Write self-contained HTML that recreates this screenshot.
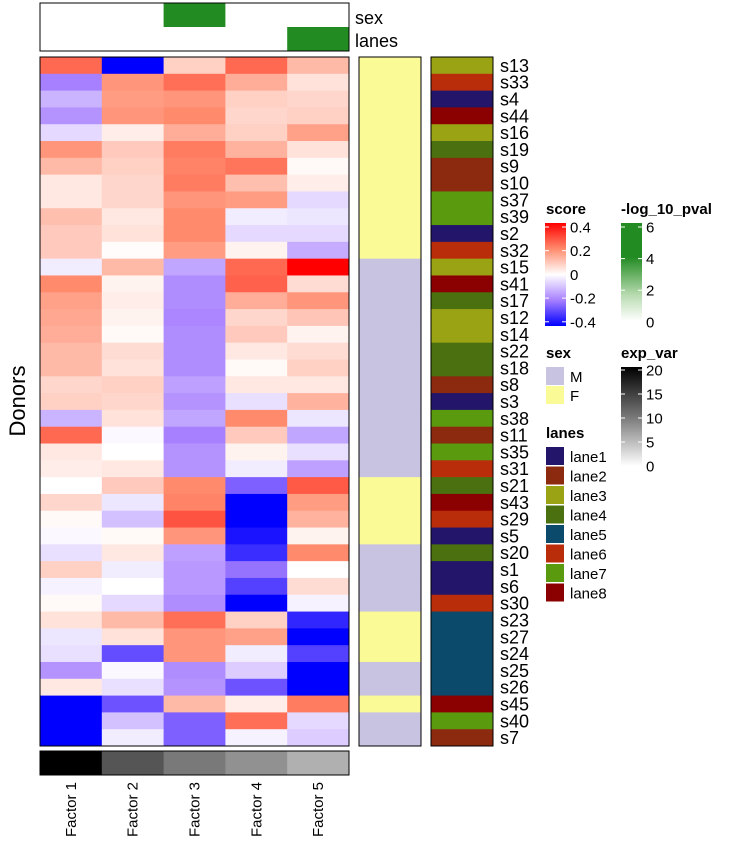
<!DOCTYPE html>
<html><head><meta charset="utf-8"><style>
body{margin:0;background:#fff;font-family:"Liberation Sans",sans-serif}
svg text{font-family:"Liberation Sans",sans-serif}
</style></head><body>
<svg id="c" width="733" height="846" xmlns="http://www.w3.org/2000/svg"></svg>
<script>
const donors=["s13","s33","s4","s44","s16","s19","s9","s10","s37","s39","s2","s32","s15","s41","s17","s12","s14","s22","s18","s8","s3","s38","s11","s35","s31","s21","s43","s29","s5","s20","s1","s6","s30","s23","s27","s24","s25","s26","s45","s40","s7"];
const factors=["Factor 1","Factor 2","Factor 3","Factor 4","Factor 5"];
const scores=[
[0.25,-0.45,0.08,0.25,0.12],[-0.2,0.18,0.24,0.14,0.05],[-0.12,0.17,0.18,0.08,0.07],[-0.17,0.18,0.2,0.07,0.08],
[-0.06,0.03,0.14,0.08,0.16],[0.18,0.09,0.22,0.13,0.05],[0.12,0.08,0.21,0.23,0.01],[0.04,0.07,0.22,0.11,0.03],
[0.04,0.07,0.18,0.17,-0.06],[0.11,0.04,0.2,-0.03,-0.04],[0.09,0.05,0.2,-0.06,-0.06],[0.09,0.005,0.17,0.02,-0.13],
[-0.03,0.12,-0.14,0.25,0.42],[0.2,0.02,-0.18,0.26,0.06],[0.16,0.03,-0.18,0.14,0.18],[0.15,0.02,-0.19,0.07,0.1],
[0.14,0.01,-0.18,0.09,0.02],[0.12,0.06,-0.18,0.04,0.06],[0.12,0.05,-0.18,0.01,0.08],[0.07,0.08,-0.15,0.04,0.04],
[0.08,0.07,-0.17,-0.05,0.13],[-0.12,0.05,-0.14,0.2,-0.04],[0.25,-0.01,-0.2,0.09,-0.14],[0.04,0.0,-0.17,0.02,-0.05],
[0.03,0.04,-0.17,-0.03,-0.15],[0.0,0.09,0.2,-0.25,0.27],[0.07,-0.04,0.21,-0.45,0.17],[0.01,-0.1,0.28,-0.45,0.13],
[-0.01,0.01,0.18,-0.37,0.02],[-0.05,0.04,-0.15,-0.33,0.2],[0.08,-0.03,-0.16,-0.22,0],[-0.02,0.0,-0.16,-0.3,0.06],
[0.01,-0.06,-0.18,-0.45,-0.02],[0.05,0.12,0.24,0.08,-0.34],[-0.04,0.05,0.18,0.16,-0.45],[-0.05,-0.28,0.18,-0.03,-0.3],
[-0.17,-0.01,-0.18,-0.08,-0.45],[0.04,-0.05,-0.17,-0.27,-0.45],[-0.45,-0.27,0.12,0.03,0.22],[-0.45,-0.1,-0.25,0.24,-0.06],
[-0.45,-0.03,-0.25,-0.02,-0.08]];
const sexes=["F","F","F","F","F","F","F","F","F","F","F","F","M","M","M","M","M","M","M","M","M","M","M","M","M","F","F","F","F","M","M","M","M","F","F","F","M","M","F","M","M"];
const lanes=[3,6,1,8,3,4,2,2,7,7,1,6,3,8,4,3,3,4,4,2,1,7,2,7,6,4,8,6,1,4,1,1,6,5,5,5,5,5,8,7,2];
const expVar=[20,13,10,8,5.5];
const sexTop=[0,0,1,0,0];
const lanesTop=[0,0,0,0,1];
const laneNames=["lane1","lane2","lane3","lane4","lane5","lane6","lane7","lane8"];
const laneCols=["#231569","#8B2A0E","#9AA314","#4A7010","#0B4A6A","#BA2D0B","#5A9A0F","#8B0000"];
const sexCols={M:"#C8C3E0",F:"#FAFA96"};

const svg=document.getElementById('c');const NS="http://www.w3.org/2000/svg";
function el(t,a,p){const e=document.createElementNS(NS,t);for(const k in a)e.setAttribute(k,a[k]);(p||svg).appendChild(e);return e;}
function lerp(a,b,t){return a.map((v,i)=>Math.round(v+(b[i]-v)*t));}
function scoreCol(v){const s=[[-0.4,[0,0,255]],[-0.2,[167,128,255]],[0,[255,255,255]],[0.2,[255,138,108]],[0.4,[255,0,0]]];
 if(v<=-0.4)return"rgb(0,0,255)";if(v>=0.4)return"rgb(255,0,0)";
 for(let i=0;i<4;i++){if(v<=s[i+1][0]){const c=lerp(s[i][1],s[i+1][1],(v-s[i][0])/0.2);return`rgb(${c})`;}}}
function grayCol(v){const g=Math.round(255*(1-v/20)*0.95+ (v<1?12:0));return`rgb(${g},${g},${g})`;}
const X0=40,X1=349,Y0=57,Y1=746;const cw=(X1-X0)/factors.length,rh=(Y1-Y0)/donors.length;
const xs=i=>X0+i*cw,ys=j=>Y0+j*rh;
// top annotations
el('rect',{x:40,y:3,width:309,height:48,fill:'#fff'});
sexTop.forEach((v,i)=>{if(v){const r=el('rect',{x:xs(i),y:3,width:cw,height:24,fill:'#228B22'});
}});
lanesTop.forEach((v,i)=>{if(v){const r=el('rect',{x:xs(i),y:27,width:cw,height:24,fill:'#228B22'});
}});
el('rect',{x:40,y:3,width:309,height:48,fill:'none',stroke:'#000','stroke-width':1});
let t=el('text',{x:355,y:24,'font-size':18});t.textContent='sex';
t=el('text',{x:355,y:47,'font-size':18});t.textContent='lanes';
// heatmap
scores.forEach((row,j)=>row.forEach((v,i)=>{const r=el('rect',{x:xs(i),y:ys(j),width:cw+0.5,height:rh+0.5,fill:scoreCol(v)});
}));
el('rect',{x:X0,y:Y0,width:X1-X0,height:Y1-Y0,fill:'none',stroke:'#000'});
// sex col
sexes.forEach((s,j)=>{const r=el('rect',{x:359,y:ys(j),width:62,height:rh+0.5,fill:sexCols[s]});
});
el('rect',{x:359,y:Y0,width:62,height:Y1-Y0,fill:'none',stroke:'#000'});
lanes.forEach((l,j)=>{const r=el('rect',{x:431,y:ys(j),width:62,height:rh+0.5,fill:laneCols[l-1]});
});
el('rect',{x:431,y:Y0,width:62,height:Y1-Y0,fill:'none',stroke:'#000'});
donors.forEach((d,j)=>{const tt=el('text',{x:500,y:ys(j)+rh/2+6.5,'font-size':18});tt.textContent=d;
});
// bottom exp_var
expVar.forEach((v,i)=>{const r=el('rect',{x:xs(i),y:751,width:cw+0.5,height:24,fill:grayCol(v)});
});
el('rect',{x:40,y:751,width:309,height:24,fill:'none',stroke:'#000'});
factors.forEach((f,i)=>{const cx=xs(i)+cw/2+5;const tt=el('text',{x:0,y:0,'font-size':15,'text-anchor':'end',transform:`translate(${cx},782) rotate(-90)`});tt.textContent=f;
});
t=el('text',{x:0,y:0,'font-size':22,'text-anchor':'middle',transform:'translate(25,401) rotate(-90)',});t.textContent='Donors';
// legends
const defs=el('defs',{});
function grad(id,stops){const g=el('linearGradient',{id,x1:0,y1:0,x2:0,y2:1},defs);stops.forEach(s=>el('stop',{offset:s[0],'stop-color':s[1]},g));}
grad('gs',[[0,'#f00'],[0.25,'rgb(255,138,108)'],[0.5,'#fff'],[0.75,'rgb(167,128,255)'],[1,'#00f']]);
grad('gp',[[0,'#228B22'],[0.33,'#228B22'],[0.7,'#b8dbb0'],[0.95,'#fff'],[1,'#fff']]);
grad('ge',[[0,'#000'],[0.5,'#777'],[1,'#fff']]);
function title(x,y,s,n){const e=el('text',{x,y,'font-size':15,'font-weight':'bold',});e.textContent=s;}
title(546,214,'score','score-legend-title');title(621,214,'-log_10_pval','pval-legend-title');
title(546,358,'sex','sex-legend-title');title(621,358,'exp_var','expvar-legend-title');title(546,438,'lanes','lanes-legend-title');
el('rect',{x:545,y:223,width:21,height:103,fill:'url(#gs)'});
el('rect',{x:621,y:223,width:21,height:103,fill:'url(#gp)'});
el('rect',{x:621,y:367,width:21,height:99,fill:'url(#ge)'});
function ticks(x,vals,y0,step,lab){vals.forEach((v,i)=>{const y=y0+i*step;
 el('line',{x1:x,x2:x+4,y1:y,y2:y,stroke:'#fff'});el('line',{x1:x+17,x2:x+21,y1:y,y2:y,stroke:'#fff'});
 const e=el('text',{x:x+25,y:y+5.5,'font-size':15});e.textContent=v;});}
ticks(545,["0.4","0.2","0","-0.2","-0.4"],227,23.7,1);
ticks(621,["6","4","2","0"],227,31.6,1);
ticks(621,["20","15","10","5","0"],370,24,1);
[['M',367],['F',386]].forEach(([s,y])=>{el('rect',{x:546,y,width:18,height:18,fill:sexCols[s]});const e=el('text',{x:570,y:y+15,'font-size':15});e.textContent=s;});
laneNames.forEach((n,i)=>{const y=447+i*19.5;el('rect',{x:546,y,width:18,height:18,fill:laneCols[i]});const e=el('text',{x:570,y:y+15,'font-size':15});e.textContent=n;
});
</script>
</body></html>
